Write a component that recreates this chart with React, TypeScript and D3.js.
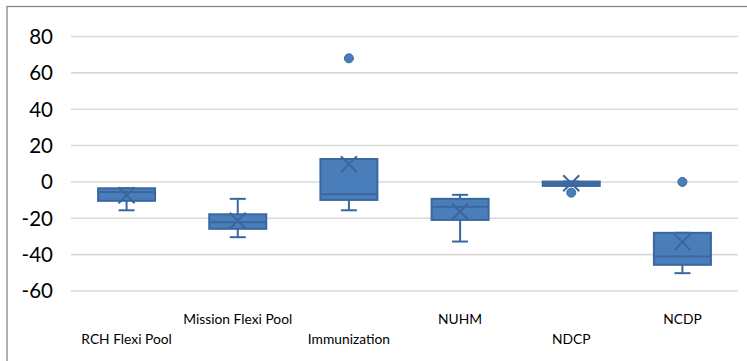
import * as d3 from 'd3';

// quartile stats
const categories = ['RCH Flexi Pool', 'Mission Flexi Pool', 'Immunization', 'NUHM', 'NDCP', 'NCDP'];
const whiskerLow = [-15.6, -30.4, -15.6, -32.8, -2.2, -50.2];
const q1 = [-10.4, -25.8, -9.9, -20.9, -2.2, -45.6];
const median = [-5.5, -22.2, -6.8, -13.6, -1, -41];
const q3 = [-3.5, -17.8, 12.6, -9.3, 0.2, -28];
const whiskerHigh = [-3.5, -9.3, 12.6, -7.1, 0.2, -28];
const means = [-7.3, -21.4, 9.7, -16.3, -0.7, -33.1];
const outliers: [number, number][] = [[2, 68], [4, -5.9], [5, 0]];
const yTicks = [80, 60, 40, 20, 0, -20, -40, -60];

const W = 747;
const H = 361;
const fill = '#4a7ebb';
const stroke = '#3a679e';

export default function App() {
  const x = d3.scaleBand<string>().domain(categories).range([71, 738]);
  const y = d3.scaleLinear().domain([-60, 80]).range([291, 36.5]);
  const bw = 57;
  const cap = 16;

  return (
    <svg width={W} height={H} style={{ position: 'absolute', left: 0, top: 0 }}>
      <rect x={0} y={0} width={W} height={H} fill="#fff" />
      <rect x={7} y={6.5} width={W + 10} height={H + 10} fill="none" stroke="#878787" strokeWidth={1.3} />
      {yTicks.map((t) => (
        <g key={t}>
          <line x1={71} x2={738} y1={y(t)} y2={y(t)} stroke="#d9d9d9" strokeWidth={1.6} />
          <text x={53} y={y(t)} dy="0.36em" textAnchor="end" fontFamily="Lato, sans-serif" fontSize={20.5} fill="#000">
            {t}
          </text>
        </g>
      ))}
      {categories.map((c, i) => {
        const cx = (x(c) ?? 0) + x.bandwidth() / 2;
        return (
          <g key={c}>
            <line x1={cx} x2={cx} y1={y(q3[i])} y2={y(whiskerHigh[i])} stroke={stroke} strokeWidth={2} />
            <line x1={cx} x2={cx} y1={y(q1[i])} y2={y(whiskerLow[i])} stroke={stroke} strokeWidth={2} />
            <line x1={cx - cap / 2} x2={cx + cap / 2} y1={y(whiskerHigh[i])} y2={y(whiskerHigh[i])} stroke={stroke} strokeWidth={2} />
            <line x1={cx - cap / 2} x2={cx + cap / 2} y1={y(whiskerLow[i])} y2={y(whiskerLow[i])} stroke={stroke} strokeWidth={2} />
            <rect
              x={cx - bw / 2}
              y={y(q3[i])}
              width={bw}
              height={Math.max(y(q1[i]) - y(q3[i]), 1)}
              fill={fill}
              stroke={stroke}
              strokeWidth={2}
            />
            <line x1={cx - bw / 2} x2={cx + bw / 2} y1={y(median[i])} y2={y(median[i])} stroke={stroke} strokeWidth={2} />
            <path
              d={`M${cx - 8},${y(means[i]) - 8}L${cx + 8},${y(means[i]) + 8}M${cx + 8},${y(means[i]) - 8}L${cx - 8},${y(means[i]) + 8}`}
              stroke={stroke}
              strokeWidth={2}
              fill="none"
            />
            <text
              x={cx}
              y={i % 2 === 0 ? 344 : 324}
              textAnchor="middle"
              fontFamily="Lato, sans-serif"
              fontSize={13.8}
              fill="#000"
            >
              {c}
            </text>
          </g>
        );
      })}
      {outliers.map(([i, v]) => (
        <circle
          key={i}
          cx={(x(categories[i]) ?? 0) + x.bandwidth() / 2}
          cy={y(v)}
          r={4.5}
          fill={fill}
          stroke={stroke}
          strokeWidth={1}
        />
      ))}
    </svg>
  );
}
